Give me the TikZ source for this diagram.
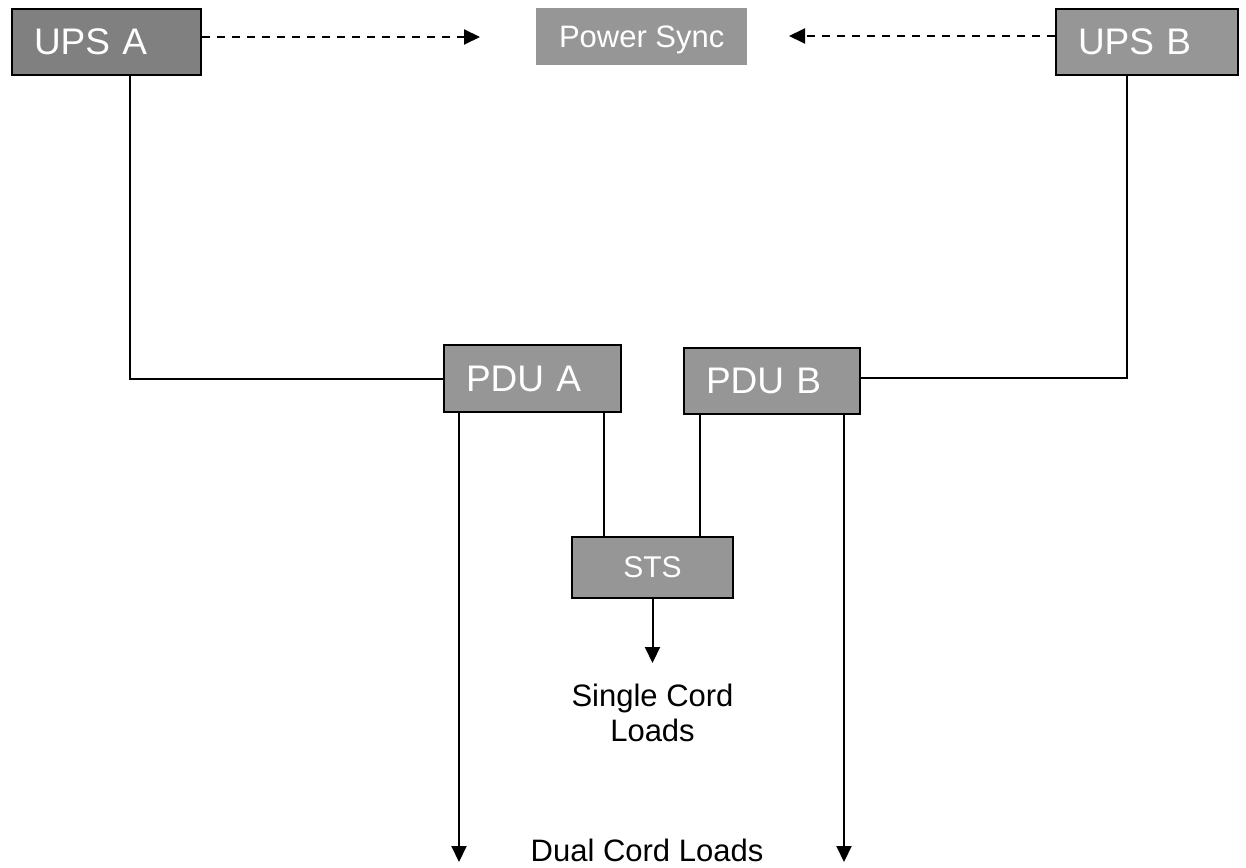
\documentclass[tikz,border=0pt]{standalone}
\usepackage{fontspec}
\setmainfont{Liberation Sans}
\usetikzlibrary{arrows.meta}
\definecolor{darkbox}{HTML}{808080}
\definecolor{midbox}{HTML}{969696}
\tikzset{
  boxA/.style={draw=black, line width=2pt, fill=darkbox, text=white, inner ysep=0pt, anchor=north west, align=left},
  boxB/.style={draw=black, line width=2pt, fill=midbox, text=white, inner ysep=0pt, anchor=north west, align=left},
  wire/.style={draw=black, line width=2pt},
  arr/.style={wire, -{Triangle[length=16pt,width=15pt]}},
  dasharr/.style={wire, dash pattern=on 8pt off 7pt, -{Triangle[length=16pt,width=15pt]}},
  bigtxt/.style={font=\fontsize{37}{40}\selectfont},
  lbl/.style={font=\fontsize{31}{35}\selectfont, text=black, align=center}
}
\begin{document}
\begin{tikzpicture}[x=1pt,y=-1pt]
\useasboundingbox (0,0) rectangle (1246,867);

% boxes
\node[boxA, bigtxt, minimum width=189pt, minimum height=66pt, inner xsep=22pt, text width=145pt] (upsA) at (11,8) {UPS A};
\node[boxB, bigtxt, minimum width=182pt, minimum height=66pt, inner xsep=22pt, text width=138pt] (upsB) at (1055,8) {UPS B};
\node[fill=midbox, text=white, anchor=north west, minimum width=211pt, minimum height=57pt, inner sep=0pt, text depth=0pt, font=\fontsize{31}{35}\selectfont] (sync) at (536,8) {Power Sync};
\node[boxB, bigtxt, minimum width=177pt, minimum height=67pt, inner xsep=22pt, text width=133pt] (pduA) at (443,344) {PDU A};
\node[boxB, bigtxt, minimum width=176pt, minimum height=66pt, inner xsep=22pt, text width=132pt] (pduB) at (683,347) {PDU B};
\node[draw=black, line width=2pt, fill=midbox, text=white, anchor=north west, minimum width=161pt, minimum height=61pt, inner sep=0pt, font=\fontsize{30}{34}\selectfont] (sts) at (571,536) {STS};

% labels
\node[lbl, anchor=north, inner xsep=2pt, inner ysep=21pt] (single) at (sts.south |- 0,663) {Single Cord\\Loads};
\node[lbl, anchor=base] (dual) at (647,861) {Dual Cord Loads};

% free ends
\coordinate (syncL) at (480,37);
\coordinate (syncR) at (789,36);
\coordinate (dualA) at (459,862);
\coordinate (dualB) at (844,862);

% sync dashed arrows
\draw[dasharr] (upsA.east |- syncL) -- (syncL);
\draw[dasharr] (upsB.west |- syncR) -- (syncR);

% UPS to PDU feeds
\draw[wire] ([xshift=23.5pt]upsA.south) |- (pduA.west);
\draw[wire] ([xshift=-20pt]upsB.south) |- ([yshift=3pt]pduB.east);

% PDU to STS
\draw[wire] ([xshift=71.5pt]pduA.south) -- ([xshift=71.5pt]pduA.south |- sts.north);
\draw[wire] ([xshift=-72pt]pduB.south) -- ([xshift=-72pt]pduB.south |- sts.north);

% STS to single cord loads
\draw[arr] (sts.south) -- (single.north);

% dual cord loads
\draw[arr] (pduA.south -| dualA) -- (dualA);
\draw[arr] (pduB.south -| dualB) -- (dualB);
\end{tikzpicture}
\end{document}
